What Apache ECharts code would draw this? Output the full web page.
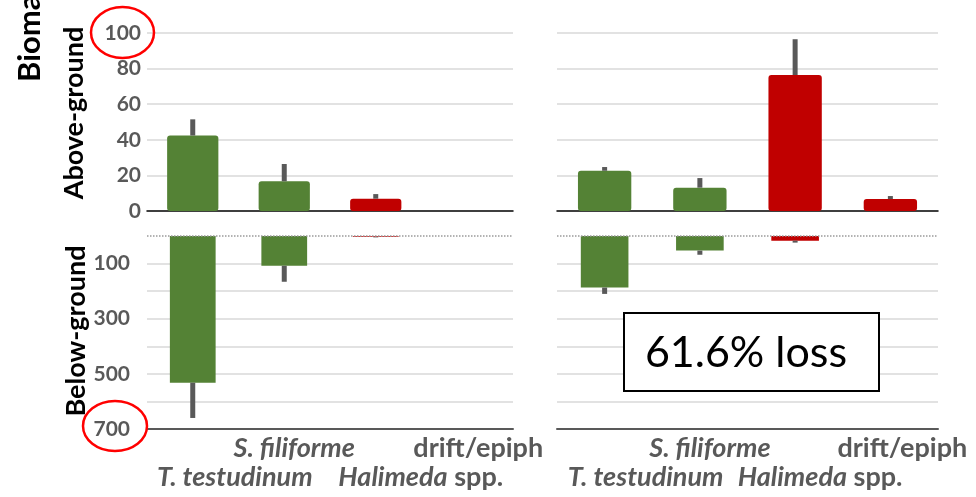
<!DOCTYPE html>
<html>
<head>
<meta charset="utf-8">
<script src="https://cdn.jsdelivr.net/npm/echarts@6/dist/echarts.min.js"></script>
<style>
  html, body { margin: 0; padding: 0; background: #fff; }
  #chart { width: 976px; height: 497px; }
</style>
</head>
<body>
<div id="chart"></div>
<script>
// Categories and biomass values (above-ground and below-ground), two sites
const categories = ['T. testudinum', 'S. filiforme', 'Halimeda spp.', 'drift/epiph'];
const barColors = ['#548235', '#548235', '#C00000', '#C00000'];

const leftAbove = [42.4, 16.7, 6.9, 0];
const leftAboveErr = [9.1, 9.7, 2.6, 0];
const leftBelow = [532, 108, 3, 0];
const leftBelowErr = [128, 58, 2, 0];

const rightAbove = [22.6, 13.1, 76.4, 6.7];
const rightAboveErr = [2.1, 5.4, 20.1, 1.7];
const rightBelow = [187, 53, 17, 0];
const rightBelowErr = [23, 15, 7, 0];

const aboveMax = 100, aboveStep = 20;
const belowMax = 700, belowStep = 100;
const belowLabels = [100, 300, 500, 700];
const lossText = '61.6% loss';

const FONT = 'Lato, "Open Sans", sans-serif';
const GREY = '#595959';
const CAT_SIZE = 27;

const chart = echarts.init(document.getElementById('chart'), null, { renderer: 'canvas' });

const grids = [
  { left: 147, width: 366, top: 33, height: 178 },
  { left: 147, width: 366, top: 236, height: 193 },
  { left: 557, width: 381, top: 33, height: 178 },
  { left: 557, width: 381, top: 236, height: 193 }
];

// staggered two-line category labels; shift = horizontal offset of each label
function categoryLabels(shift) {
  const base = { fontSize: CAT_SIZE, lineHeight: 29, fontWeight: 'bold', color: GREY, fontFamily: FONT };
  const rich = { e: { fontSize: CAT_SIZE, lineHeight: 29 }, sp: Object.assign({}, base) };
  shift.forEach((d, i) => {
    rich['i' + i] = Object.assign({}, base, { fontStyle: 'italic', padding: [0, 0, 0, 2 * d] });
    rich['n' + i] = Object.assign({}, base, { padding: [0, 0, 0, 2 * d] });
  });
  return {
    show: true,
    interval: 0,
    margin: 5,
    rich: rich,
    formatter: function (value, idx) {
      let body;
      if (value === 'Halimeda spp.') body = '{i' + idx + '|Halimeda}{sp| spp.}';
      else if (value === 'drift/epiph') body = '{n' + idx + '|drift/epiph}';
      else body = '{i' + idx + '|' + value + '}';
      return (idx % 2 === 0) ? '{e| }\n' + body : body + '\n{e| }';
    }
  };
}

function xAxisTop(gi) {
  return {
    type: 'category', gridIndex: gi, data: categories,
    axisTick: { show: false }, axisLabel: { show: false },
    axisLine: { show: true, onZero: true, lineStyle: { color: '#000', width: 1.5 } }
  };
}
function xAxisBottom(gi, shift) {
  return {
    type: 'category', gridIndex: gi, data: categories, position: 'bottom',
    axisTick: { show: false },
    axisLabel: categoryLabels(shift),
    axisLine: { show: true, onZero: false, lineStyle: { color: GREY, width: 2 } }
  };
}
function yAxisTop(gi, showLabels) {
  return {
    type: 'value', gridIndex: gi, min: 0, max: aboveMax, interval: aboveStep,
    axisLine: { show: false }, axisTick: { show: false },
    axisLabel: { show: showLabels, fontSize: 21, fontWeight: 'bold', color: GREY, fontFamily: FONT, margin: 6 },
    splitLine: { show: true, showMinLine: false, lineStyle: { color: '#d9d9d9', width: 1.5 } }
  };
}
function yAxisBottom(gi, showLabels) {
  return {
    type: 'value', gridIndex: gi, min: 0, max: belowMax, interval: belowStep, inverse: true,
    axisLine: { show: false }, axisTick: { show: false },
    axisLabel: {
      show: showLabels, fontSize: 21, fontWeight: 'bold', color: GREY, fontFamily: FONT, margin: 17,
      formatter: v => belowLabels.indexOf(v) >= 0 ? String(v) : ''
    },
    splitLine: { show: true, showMinLine: false, showMaxLine: false, lineStyle: { color: '#d9d9d9', width: 1.5 } }
  };
}

function barSeries(ai, values, widthPct, radius, zeroLine) {
  const s = {
    type: 'bar', xAxisIndex: ai, yAxisIndex: ai, barWidth: widthPct,
    data: values.map((v, i) => ({ value: v, itemStyle: { color: barColors[i], borderRadius: radius } })),
    z: 2, silent: true
  };
  if (zeroLine) {
    s.markLine = {
      silent: true, symbol: 'none', label: { show: false },
      lineStyle: { type: 'dotted', color: '#9a9a9a', width: 1.5 },
      data: [{ yAxis: 0 }]
    };
  }
  return s;
}

function errorSeries(ai, values, errs) {
  return {
    type: 'custom', xAxisIndex: ai, yAxisIndex: ai, z: 3, silent: true,
    data: values.map((v, i) => [i, v, errs[i]]).filter(d => d[2] > 0),
    renderItem: function (params, api) {
      const i = api.value(0), v = api.value(1), e = api.value(2);
      const p0 = api.coord([i, v]);
      const p1 = api.coord([i, v + e]);
      return {
        type: 'rect',
        shape: { x: p0[0] - 2.5, y: Math.min(p0[1], p1[1]), width: 5, height: Math.abs(p1[1] - p0[1]) },
        style: { fill: GREY }
      };
    }
  };
}

const option = {
  backgroundColor: '#fff',
  animation: false,
  grid: grids,
  xAxis: [
    xAxisTop(0),
    xAxisBottom(1, [42, 10, 45, 11]),
    xAxisTop(2),
    xAxisBottom(3, [41, 10, 25, 12])
  ],
  yAxis: [
    yAxisTop(0, true),
    yAxisBottom(1, true),
    yAxisTop(2, false),
    yAxisBottom(3, false)
  ],
  series: [
    barSeries(0, leftAbove, '56%', 3, false),
    errorSeries(0, leftAbove, leftAboveErr),
    barSeries(1, leftBelow, '50%', 0, true),
    errorSeries(1, leftBelow, leftBelowErr),
    barSeries(2, rightAbove, '56%', 3, false),
    errorSeries(2, rightAbove, rightAboveErr),
    barSeries(3, rightBelow, '50%', 0, true),
    errorSeries(3, rightBelow, rightBelowErr)
  ],
  graphic: [
    { type: 'text', x: 30, y: 82, rotation: Math.PI / 2,
      style: { text: 'Biomass (g m⁻²)', font: 'bold 31px ' + FONT, fill: '#000', textAlign: 'left', textVerticalAlign: 'middle' } },
    { type: 'text', x: 74, y: 113, rotation: Math.PI / 2,
      style: { text: 'Above-ground', font: 'bold 27px ' + FONT, fill: '#000', textAlign: 'center', textVerticalAlign: 'middle' } },
    { type: 'text', x: 76, y: 331, rotation: Math.PI / 2,
      style: { text: 'Below-ground', font: 'bold 27px ' + FONT, fill: '#000', textAlign: 'center', textVerticalAlign: 'middle' } },
    { type: 'ellipse', shape: { cx: 122.5, cy: 32.5, rx: 31.5, ry: 25.5 },
      style: { fill: 'none', stroke: '#ff0000', lineWidth: 2.5 }, z: 100 },
    { type: 'ellipse', shape: { cx: 115, cy: 426, rx: 32, ry: 25 },
      style: { fill: 'none', stroke: '#ff0000', lineWidth: 2.5 }, z: 100 },
    { type: 'rect', shape: { x: 624, y: 313, width: 255, height: 78 },
      style: { fill: '#fff', stroke: '#000', lineWidth: 2 }, z: 100 },
    { type: 'text', x: 746, y: 353, z: 101,
      style: { text: lossText, font: '43px ' + FONT, fill: '#000', textAlign: 'center', textVerticalAlign: 'middle' } }
  ]
};

chart.setOption(option);
</script>
</body>
</html>
